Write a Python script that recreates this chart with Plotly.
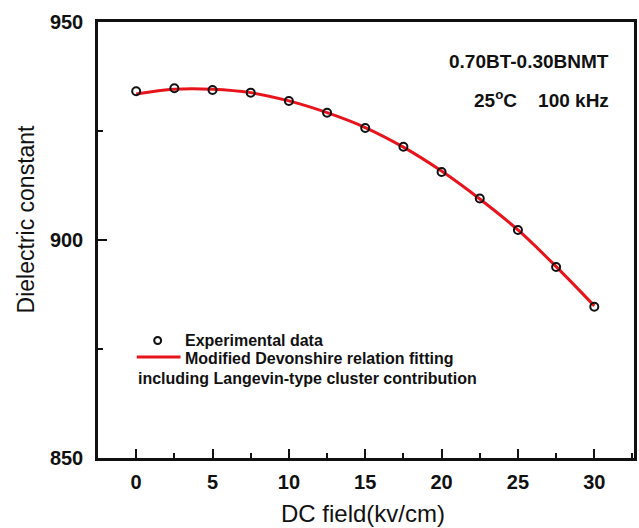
import plotly.graph_objects as go

field = [0, 2.5, 5, 7.5, 10, 12.5, 15, 17.5, 20, 22.5, 25, 27.5, 30]
eps_exp = [934.1, 934.8, 934.4, 933.8, 931.9, 929.2, 925.7, 921.4, 915.6, 909.5, 902.3, 893.8, 884.7]
eps_fit = [933.5, 934.6, 934.6, 933.8, 931.9, 929.2, 925.8, 921.3, 915.8, 909.4, 902.3, 893.9, 884.9]

x_ticks = [0, 5, 10, 15, 20, 25, 30]
y_ticks = [850, 900, 950]

FONT = "Liberation Sans, Arial, sans-serif"
W, H = 639, 528
ML, MR, MT, MB = 98, 2, 22, 70

fig = go.Figure()
fig.add_trace(go.Scatter(x=field, y=eps_fit, mode="lines", line=dict(color="#e8141c", width=3, shape="spline"),
                         showlegend=False, hoverinfo="skip"))
fig.add_trace(go.Scatter(x=field, y=eps_exp, mode="markers",
                         marker=dict(symbol="circle-open", size=8, color="#111111", line=dict(width=2)),
                         showlegend=False))

fig.update_layout(
    width=W, height=H,
    margin=dict(l=ML, r=MR, t=MT, b=MB),
    paper_bgcolor="white", plot_bgcolor="white",
    font=dict(family=FONT, color="#111111"),
    xaxis=dict(range=[-2.5, 32.6], tickvals=x_ticks, ticks="inside", ticklen=9, tickwidth=2, tickcolor="#111",
               minor=dict(dtick=2.5, tick0=0, ticks="inside", ticklen=5, tickwidth=2, tickcolor="#111"),
               showline=True, linewidth=2.5, linecolor="#111", mirror=True, showgrid=False, zeroline=False,
               tickfont=dict(size=20, family=FONT, weight="bold"), ticklabelstandoff=4),
    yaxis=dict(range=[850, 950], tickvals=y_ticks, ticks="inside", ticklen=9, tickwidth=2, tickcolor="#111",
               minor=dict(dtick=25, tick0=850, ticks="inside", ticklen=5, tickwidth=2, tickcolor="#111"),
               showline=True, linewidth=2.5, linecolor="#111", mirror=True, showgrid=False, zeroline=False,
               tickfont=dict(size=20, family=FONT, weight="bold"), ticklabelstandoff=8),
)


def px_x(p):
    return (p - ML) / (W - ML - MR)


def px_y(p):
    return 1 - (p - MT) / (H - MT - MB)


# axis titles
fig.add_annotation(x=px_x(364), y=px_y(513), xref="paper", yref="paper", xanchor="center", yanchor="middle",
                   text="DC field(kv/cm)", showarrow=False, font=dict(size=24, family=FONT))
fig.add_annotation(x=px_x(26), y=px_y(219), xref="paper", yref="paper", xanchor="center", yanchor="middle",
                   text="Dielectric constant", textangle=-90, showarrow=False, font=dict(size=23, family=FONT))

# annotations top-right
fig.add_annotation(x=px_x(614), y=px_y(61.7), xref="paper", yref="paper", xanchor="right", yanchor="middle",
                   text="<b>0.70BT-0.30BNMT</b>", showarrow=False, font=dict(size=19, family=FONT))
fig.add_annotation(x=px_x(614), y=px_y(99), xref="paper", yref="paper", xanchor="right", yanchor="middle",
                   text="<b>25<sup>o</sup>C    100 kHz</b>", showarrow=False, font=dict(size=19, family=FONT))

# legend
fig.add_shape(type="circle", xref="paper", yref="paper", x0=px_x(154.5), x1=px_x(161.5), y0=px_y(337), y1=px_y(344),
              line=dict(color="#111", width=2))
fig.add_annotation(x=px_x(183), y=px_y(340.7), xref="paper", yref="paper", xanchor="left", yanchor="middle",
                   text="<b>Experimental data</b>", showarrow=False, font=dict(size=16, family=FONT))
fig.add_shape(type="line", xref="paper", yref="paper", x0=px_x(137), x1=px_x(181), y0=px_y(357), y1=px_y(357),
              line=dict(color="#e8141c", width=3))
fig.add_annotation(x=px_x(183), y=px_y(358), xref="paper", yref="paper", xanchor="left", yanchor="middle",
                   text="<b>Modified Devonshire relation fitting</b>", showarrow=False, font=dict(size=16, family=FONT))
fig.add_annotation(x=px_x(136), y=px_y(378), xref="paper", yref="paper", xanchor="left", yanchor="middle",
                   text="<b>including Langevin-type cluster contribution</b>", showarrow=False, font=dict(size=16, family=FONT))

fig.write_html("out.html")
